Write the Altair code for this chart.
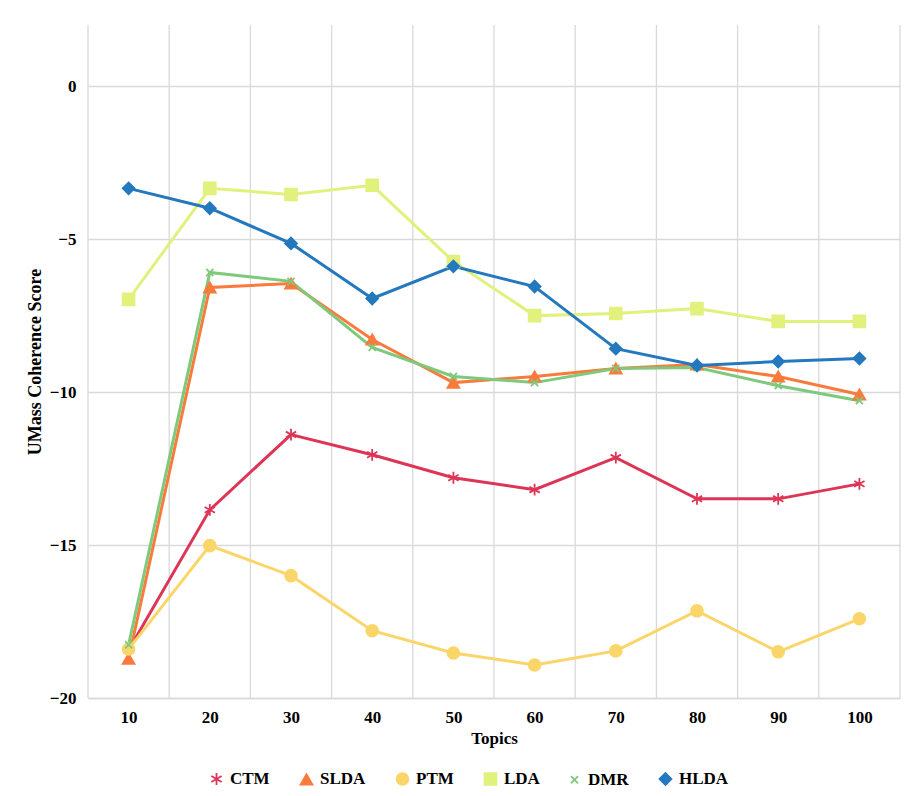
import altair as alt
import pandas as pd

topics = [10, 20, 30, 40, 50, 60, 70, 80, 90, 100]
models = ["CTM", "SLDA", "PTM", "LDA", "DMR", "HLDA"]
ctm = [-18.43, -13.85, -11.39, -12.05, -12.80, -13.19, -12.14, -13.49, -13.49, -13.00]
slda = [-18.72, -6.58, -6.45, -8.28, -9.69, -9.49, -9.23, -9.10, -9.49, -10.08]
ptm = [-18.40, -15.02, -16.00, -17.80, -18.53, -18.92, -18.46, -17.15, -18.49, -17.41]
lda = [-6.97, -3.34, -3.54, -3.24, -5.73, -7.50, -7.43, -7.27, -7.69, -7.69]
dmr = [-18.26, -6.09, -6.38, -8.54, -9.49, -9.69, -9.23, -9.20, -9.79, -10.28]
hlda = [-3.34, -3.99, -5.14, -6.94, -5.89, -6.55, -8.58, -9.13, -9.00, -8.90]
y_ticks = [-20, -15, -10, -5, 0]
x_grid = [5, 15, 25, 35, 45, 55, 65, 75, 85, 95, 105]

series = {"CTM": ctm, "SLDA": slda, "PTM": ptm, "LDA": lda, "DMR": dmr, "HLDA": hlda}
rows = []
for m in models:
    for t, v in zip(topics, series[m]):
        rows.append({"Topics": t, "Score": v, "Model": m})
df = pd.DataFrame(rows)
grid_df = pd.DataFrame({"g": x_grid})

colors = ["#DC3556", "#F97B3C", "#FAD66A", "#E2F07C", "#7FC97C", "#2478BE"]
shapes = [
    "M0,-1L0,1M-0.87,-0.5L0.87,0.5M-0.87,0.5L0.87,-0.5",
    "triangle-up",
    "circle",
    "square",
    "M-0.6,-0.6L0.6,0.6M-0.6,0.6L0.6,-0.6",
    "diamond",
]
FONT = "Liberation Serif"

xscale = alt.Scale(domain=[5, 105], nice=False, zero=False)
yscale = alt.Scale(domain=[-20, 2], nice=False, zero=False)
cscale = alt.Scale(domain=models, range=colors)

x_axis = alt.Axis(values=topics, grid=False, ticks=False, domain=True,
                  domainColor="#D9D9D9", domainWidth=1.3,
                  labelFont=FONT, labelFontWeight="bold", labelFontSize=17,
                  labelColor="#000000", labelPadding=11,
                  title="Topics", titleFont=FONT, titleFontWeight="bold",
                  titleFontSize=17, titleColor="#000000", titlePadding=5)
y_axis = alt.Axis(values=y_ticks, grid=True, gridColor="#D9D9D9", gridWidth=1.3,
                  ticks=False, domain=False,
                  labelFont=FONT, labelFontWeight="bold", labelFontSize=17,
                  labelColor="#000000", labelPadding=12,
                  title="UMass Coherence Score", titleFont=FONT,
                  titleFontWeight="bold", titleFontSize=18,
                  titleColor="#000000", titlePadding=5)

legend = alt.Legend(title=None, orient="none", direction="horizontal",
                    legendX=120, legendY=745,
                    labelFont=FONT, labelFontWeight="bold",
                    labelFontSize=17, labelColor="#000000",
                    symbolSize=140, symbolStrokeWidth=1.8,
                    columnPadding=26, labelOffset=5)

base = alt.Chart(df)
lines = base.mark_line(strokeWidth=3).encode(
    x=alt.X("Topics:Q", scale=xscale, axis=x_axis),
    y=alt.Y("Score:Q", scale=yscale, axis=y_axis),
    color=alt.Color("Model:N", scale=cscale, legend=legend),
    detail="Model:N",
    order=alt.Order("Topics:Q"),
)

vgrid = alt.Chart(grid_df).mark_rule(color="#D9D9D9", strokeWidth=1.3).encode(
    x=alt.X("g:Q", scale=xscale, axis=x_axis)
)

points = base.mark_point(filled=True, size=140, strokeWidth=1.8, opacity=1).encode(
    x=alt.X("Topics:Q", scale=xscale, axis=x_axis),
    y=alt.Y("Score:Q", scale=yscale, axis=y_axis),
    color=alt.Color("Model:N", scale=cscale, legend=legend),
    shape=alt.Shape("Model:N", scale=alt.Scale(domain=models, range=shapes), legend=legend),
    stroke=alt.Stroke("Model:N", scale=cscale, legend=legend),
)

chart = alt.layer(vgrid, lines, points).properties(
    width=812, height=673,
    autosize=alt.AutoSizeParams(type="none"),
    padding={"left": 88, "top": 25, "right": 5, "bottom": 98},
    background="#FFFFFF",
).configure_view(stroke=None)

chart.save("out.html", embed_options={"renderer": "svg", "actions": False})
